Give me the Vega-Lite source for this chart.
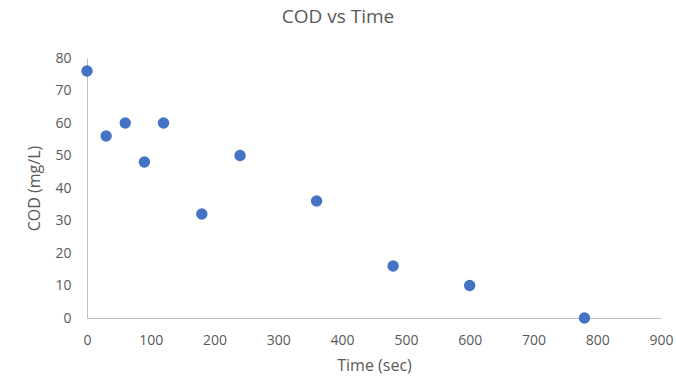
{
  "$schema": "https://vega.github.io/schema/vega-lite/v6.json",
  "width": 574,
  "height": 260,
  "autosize": {"type": "none"},
  "padding": {"left": 87, "top": 58, "right": 15, "bottom": 68},
  "background": "white",
  "title": {
    "text": "COD vs Time",
    "anchor": "middle",
    "dx": -36,
    "offset": 24,
    "font": "Open Sans",
    "fontSize": 19,
    "fontWeight": "normal",
    "color": "#595959"
  },
  "config": {
    "view": {"stroke": null},
    "font": "Open Sans"
  },
  "data": {
    "values": [
      {"time": 0, "cod": 76},
      {"time": 30, "cod": 56},
      {"time": 60, "cod": 60},
      {"time": 90, "cod": 48},
      {"time": 120, "cod": 60},
      {"time": 180, "cod": 32},
      {"time": 240, "cod": 50},
      {"time": 360, "cod": 36},
      {"time": 480, "cod": 16},
      {"time": 600, "cod": 10},
      {"time": 780, "cod": 0}
    ]
  },
  "mark": {"type": "point", "filled": true, "size": 130, "color": "#4472C4", "opacity": 1},
  "encoding": {
    "x": {
      "field": "time",
      "type": "quantitative",
      "scale": {"domain": [0, 900], "nice": false, "zero": true},
      "axis": {
        "title": "Time (sec)",
        "values": [0, 100, 200, 300, 400, 500, 600, 700, 800, 900],
        "grid": false,
        "ticks": false,
        "labelFlush": false,
        "domainColor": "#BFBFBF",
        "domainWidth": 1,
        "labelFont": "Open Sans",
        "labelFontSize": 14,
        "labelColor": "#595959",
        "labelPadding": 15,
        "titleFont": "Open Sans",
        "titleFontSize": 16,
        "titleFontWeight": "normal",
        "titleColor": "#595959",
        "titlePadding": 10
      }
    },
    "y": {
      "field": "cod",
      "type": "quantitative",
      "scale": {"domain": [0, 80], "nice": false},
      "axis": {
        "title": "COD (mg/L)",
        "values": [0, 10, 20, 30, 40, 50, 60, 70, 80],
        "grid": false,
        "ticks": false,
        "labelFlush": false,
        "domainColor": "#BFBFBF",
        "domainWidth": 1,
        "labelFont": "Open Sans",
        "labelFontSize": 14,
        "labelColor": "#595959",
        "labelPadding": 16,
        "titleFont": "Open Sans",
        "titleFontSize": 16,
        "titleFontWeight": "normal",
        "titleColor": "#595959",
        "titlePadding": 12
      }
    }
  }
}
